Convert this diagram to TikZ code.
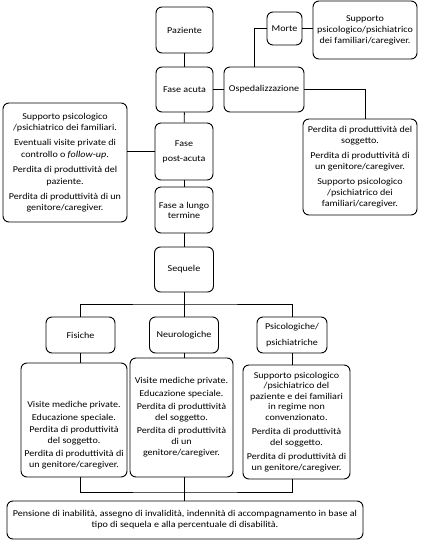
\documentclass[tikz,border=0pt]{standalone}
\usepackage{fontspec}
\setmainfont{Carlito}[FakeStretch=1.12]
\begin{document}
\begin{tikzpicture}[x=1pt,y=-1pt,
 txt/.style={align=center, inner sep=1pt, font=\fontsize{9}{11}\selectfont},
 box/.style={txt, draw, line width=0.9pt, rounded corners=6pt},
 ln/.style={line width=0.9pt}]
\useasboundingbox (0,0) rectangle (421,541);
\node[box, minimum width=57pt, minimum height=46pt] (paz) at (184.5,30) {Paziente};
\node[box, minimum width=57pt, minimum height=45pt] (acuta) at (184.5,89.5) {Fase acuta};
\node[box, minimum width=80pt, minimum height=45pt] (osp) at (264,89.5) {Ospedalizzazione};
\node[box, minimum width=35pt, minimum height=33pt] (morte) at (284.5,28.5) {Morte};
\node[box, minimum width=104pt, minimum height=58pt] (supM) at (365,30) {Supporto\\ psicologico/psichiatrico\\ dei familiari/caregiver.};
\node[box, minimum width=124pt, minimum height=119pt, font=\fontsize{9}{11.6}\selectfont] (left) at (65,162.5) {Supporto psicologico\\ /psichiatrico dei familiari.\\[3.5pt] Eventuali visite private di\\ controllo o \textit{follow-up}.\\[3.5pt] Perdita di produttività del\\ paziente.\\[3.5pt] Perdita di produttività di un\\ genitore/caregiver.};
\node[box, minimum width=58pt, minimum height=57pt] (post) at (184,151.5) {Fase\\[4pt] post-acuta};
\node[box, minimum width=114pt, minimum height=96pt] (right) at (360,167) {Perdita di produttività del\\ soggetto.\\[4pt] Perdita di produttività di\\ un genitore/caregiver.\\[4pt] Supporto psicologico\\ /psichiatrico dei\\ familiari/caregiver.};
\node[box, minimum width=58pt, minimum height=46pt] (lungo) at (184,210) {Fase a lungo\\[-1pt] termine};
\node[box, minimum width=59pt, minimum height=45pt] (seq) at (184,269.5) {Sequele};
\node[box, minimum width=69pt, minimum height=36pt] (fis) at (80.5,335) {Fisiche};
\node[box, minimum width=69pt, minimum height=36pt] (neu) at (184,335) {Neurologiche};
\node[box, minimum width=70pt, minimum height=36pt] (psi) at (292,335) {Psicologiche/\\[5pt] psichiatriche};
\node[box, minimum width=106pt, minimum height=114pt] (fisD) at (74,420) {};
\node[txt] (fisDt) at (74,435) {Visite mediche private.\\[1.5pt] Educazione speciale.\\[1.5pt] Perdita di produttività\\ del soggetto.\\[1.5pt] Perdita di produttività di\\ un genitore/caregiver.};
\node[box, minimum width=103pt, minimum height=119pt] (neuD) at (181.5,417.5) {Visite mediche private.\\[2pt] Educazione speciale.\\[2pt] Perdita di produttività\\ del soggetto.\\[2pt] Perdita di produttività\\ di un\\ genitore/caregiver.};
\node[box, minimum width=107pt, minimum height=114pt, font=\fontsize{9}{10.5}\selectfont] (psiD) at (296.5,422) {Supporto psicologico\\ /psichiatrico del\\ paziente e dei familiari\\ in regime non\\ convenzionato.\\[4pt] Perdita di produttività\\ del soggetto.\\[4pt] Perdita di produttività di\\ un genitore/caregiver.};
\node[box, minimum width=356pt, minimum height=38pt] (bot) at (185,520) {Pensione di inabilità, assegno di invalidità, indennità di accompagnamento in base al\\ tipo di sequela e alla percentuale di disabilità.};
\coordinate (bus) at (184,304);
\coordinate (bus2) at (184,492);
\draw[ln] (paz) -- (acuta);
\draw[ln] (acuta) -- (osp);
\draw[ln] (acuta) -- (post);
\draw[ln] (post) -- (lungo);
\draw[ln] (lungo) -- (seq);
\draw[ln] (post.west) -- (post.west -| left.east);
\draw[ln] (morte.west) -| ([xshift=-10pt]osp.north);
\draw[ln] (morte.east) -- (morte.east -| supM.west);
\draw[ln] (osp.east) -| ([xshift=5pt]right.north);
\draw[ln] (seq.south) -- (neu.north);
\draw[ln] (fis.north) |- (bus) -| (psi.north);
\draw[ln] (fis.south) -- (fis.south |- fisD.north);
\draw[ln] (neu.south) -- (neu.south |- neuD.north);
\draw[ln] (psi.south) -- (psi.south |- psiD.north);
\draw[ln] (fisD.south -| fis.south) |- (bus2) -| (psiD.south -| psi.south);
\draw[ln] (neuD.south -| neu.south) -- (neu.south |- bot.north);
\end{tikzpicture}
\end{document}
